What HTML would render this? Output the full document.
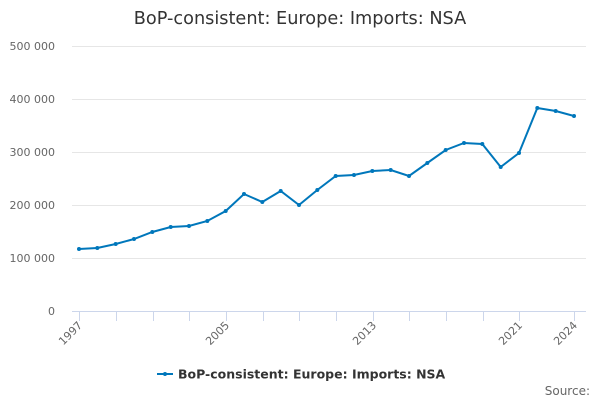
<!DOCTYPE html>
<html><head><meta charset="utf-8"><style>
html,body{margin:0;padding:0;background:#fff;}
svg{display:block;font-family:"DejaVu Sans","Liberation Sans",sans-serif;}
</style></head><body>
<svg width="600" height="400" viewBox="0 0 600 400">
<text x="300" y="24" text-anchor="middle" font-size="17.7" fill="#333">BoP-consistent: Europe: Imports: NSA</text>
<g stroke="#e6e6e6" stroke-width="1">
<line x1="72" x2="586" y1="46.5" y2="46.5"/>
<line x1="72" x2="586" y1="99.5" y2="99.5"/>
<line x1="72" x2="586" y1="152.5" y2="152.5"/>
<line x1="72" x2="586" y1="205.5" y2="205.5"/>
<line x1="72" x2="586" y1="258.5" y2="258.5"/>
</g>
<line x1="72" x2="586" y1="311.5" y2="311.5" stroke="#ccd6eb"/>
<g stroke="#ccd6eb">
<line x1="79.5" x2="79.5" y1="311" y2="321"/><line x1="116.5" x2="116.5" y1="311" y2="321"/>
<line x1="153.5" x2="153.5" y1="311" y2="321"/><line x1="189.5" x2="189.5" y1="311" y2="321"/>
<line x1="226.5" x2="226.5" y1="311" y2="321"/><line x1="263.5" x2="263.5" y1="311" y2="321"/>
<line x1="299.5" x2="299.5" y1="311" y2="321"/><line x1="336.5" x2="336.5" y1="311" y2="321"/>
<line x1="373.5" x2="373.5" y1="311" y2="321"/><line x1="409.5" x2="409.5" y1="311" y2="321"/>
<line x1="446.5" x2="446.5" y1="311" y2="321"/><line x1="483.5" x2="483.5" y1="311" y2="321"/>
<line x1="519.5" x2="519.5" y1="311" y2="321"/><line x1="574.5" x2="574.5" y1="311" y2="321"/>
</g>
<g font-size="11" fill="#666" text-anchor="end">
<text x="55" y="50">500 000</text><text x="55" y="103">400 000</text>
<text x="55" y="156">300 000</text><text x="55" y="209">200 000</text>
<text x="55" y="262">100 000</text><text x="55" y="315">0</text>
<text transform="translate(83,326) rotate(-45)">1997</text>
<text transform="translate(230,326) rotate(-45)">2005</text>
<text transform="translate(377,326) rotate(-45)">2013</text>
<text transform="translate(523,326) rotate(-45)">2021</text>
<text transform="translate(578,326) rotate(-45)">2024</text>
</g>
<polyline fill="none" stroke="#0077bb" stroke-width="2" points="79,249 97.3,248 115.7,244 134,239 152.3,232 170.7,227 189,226 207.3,221 225.7,211 244,194 262.3,202 280.7,191 299,205 317.3,190 335.7,176 354,175 372.3,171 390.7,170 409,176 427.3,163 445.7,150 464,143 482.3,144 500.7,167 519,153 537.3,108 555.7,111 574,116"/>
<g fill="#0077bb">
<circle cx="79" cy="249" r="2"/><circle cx="97.3" cy="248" r="2"/><circle cx="115.7" cy="244" r="2"/><circle cx="134" cy="239" r="2"/><circle cx="152.3" cy="232" r="2"/><circle cx="170.7" cy="227" r="2"/><circle cx="189" cy="226" r="2"/><circle cx="207.3" cy="221" r="2"/><circle cx="225.7" cy="211" r="2"/><circle cx="244" cy="194" r="2"/><circle cx="262.3" cy="202" r="2"/><circle cx="280.7" cy="191" r="2"/><circle cx="299" cy="205" r="2"/><circle cx="317.3" cy="190" r="2"/><circle cx="335.7" cy="176" r="2"/><circle cx="354" cy="175" r="2"/><circle cx="372.3" cy="171" r="2"/><circle cx="390.7" cy="170" r="2"/><circle cx="409" cy="176" r="2"/><circle cx="427.3" cy="163" r="2"/><circle cx="445.7" cy="150" r="2"/><circle cx="464" cy="143" r="2"/><circle cx="482.3" cy="144" r="2"/><circle cx="500.7" cy="167" r="2"/><circle cx="519" cy="153" r="2"/><circle cx="537.3" cy="108" r="2"/><circle cx="555.7" cy="111" r="2"/><circle cx="574" cy="116" r="2"/>
</g>
<line x1="157" x2="173" y1="374" y2="374" stroke="#0077bb" stroke-width="2"/>
<circle cx="165" cy="374" r="2" fill="#0077bb"/>
<text x="178" y="378.5" font-size="12.5" font-weight="bold" fill="#333">BoP-consistent: Europe: Imports: NSA</text>
<text x="590" y="395" font-size="12" fill="#666" text-anchor="end">Source:</text>
</svg>
</body></html>
